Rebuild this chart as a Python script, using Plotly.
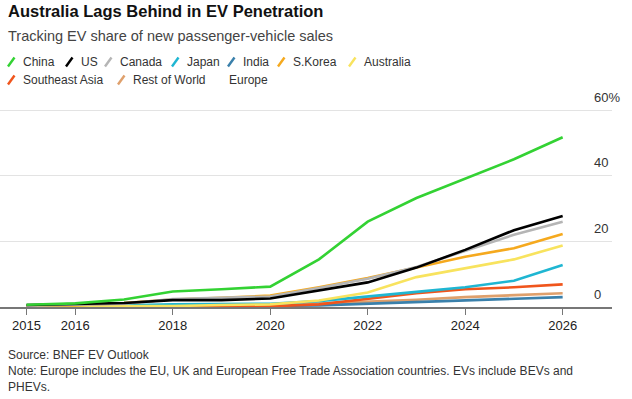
import plotly.graph_objects as go

years = list(range(2015, 2027))
china = [0.7, 1.1, 2.3, 4.7, 5.4, 6.2, 14.5, 26.0, 33.2, 39.0, 45.0, 51.7]
us = [0.6, 0.9, 1.2, 2.1, 2.1, 2.6, 5.0, 7.5, 12.0, 17.4, 23.4, 27.7]
canada = [0.4, 0.6, 1.0, 2.4, 2.8, 3.2, 5.8, 8.6, 12.2, 17.0, 22.0, 26.0]
japan = [0.3, 0.3, 0.5, 0.8, 0.8, 1.0, 1.8, 3.1, 4.6, 6.0, 8.0, 12.8]
india = [0.1, 0.1, 0.1, 0.2, 0.2, 0.3, 0.5, 1.0, 1.5, 2.0, 2.5, 3.0]
skorea = [0.3, 0.5, 1.2, 2.3, 2.8, 3.5, 6.0, 8.8, 12.0, 15.3, 17.9, 22.2]
australia = [0.2, 0.2, 0.2, 0.3, 0.6, 0.8, 2.0, 4.4, 9.1, 11.8, 14.5, 18.7]
se_asia = [0.1, 0.1, 0.1, 0.1, 0.1, 0.2, 0.8, 2.5, 4.2, 5.4, 6.0, 6.9]
rest_world = [0.1, 0.1, 0.2, 0.3, 0.3, 0.5, 1.0, 1.5, 2.2, 3.0, 3.6, 4.2]

series_names = ["China", "US", "Canada", "Japan", "India", "S.Korea", "Australia",
                "Southeast Asia", "Rest of World", "Europe"]
series_values = [china, us, canada, japan, india, skorea, australia, se_asia, rest_world, None]
colors = ["#33d233", "#000000", "#b5b5b5", "#1fb6d2", "#3a80ab", "#f5a91e", "#f8e35e",
          "#f0551c", "#dfa06c", None]

x_tickvals = [2015, 2016, 2018, 2020, 2022, 2024, 2026]
y_tickvals = [0, 20, 40, 60]
y_ticktext = ["0", "20", "40", "60%"]

title = "Australia Lags Behind in EV Penetration"
subtitle = "Tracking EV share of new passenger-vehicle sales"
source = "Source: BNEF EV Outlook"
note = ("Note: Europe includes the EU, UK and European Free Trade Association countries. EVs include BEVs and"
        "<br>PHEVs.")

W, H = 632, 399
L, R, T, B = 0, 20, 100, 92
PW, PH = W - L - R, H - T - B
BOTTOM = H - B


def px(x):
    return (x - L) / PW


def py(y):
    return (BOTTOM - y) / PH


fig = go.Figure()
order = [8, 4, 7, 3, 6, 5, 2, 1, 0]
for i in order:
    fig.add_trace(go.Scatter(x=years, y=series_values[i], mode="lines", name=series_names[i],
                             line=dict(color=colors[i], width=2.6), showlegend=False,
                             hoverinfo="skip"))

FONT = "Liberation Sans, Arial, sans-serif"
annotations = [
    dict(text="<b>" + title + "</b>", x=px(6), y=py(11), xanchor="left", yanchor="middle",
         font=dict(size=16.5, color="#111", family=FONT)),
    dict(text=subtitle, x=px(6), y=py(36), xanchor="left", yanchor="middle",
         font=dict(size=14.5, color="#444", family=FONT)),
    dict(text=source, x=px(6), y=py(355), xanchor="left", yanchor="middle",
         font=dict(size=12, color="#333", family=FONT)),
    dict(text=note, x=px(6), y=py(362), xanchor="left", yanchor="top", align="left",
         font=dict(size=12, color="#333", family=FONT)),
]
shapes = []

leg_pos = [(7, 62), (65, 62), (104, 62), (171, 62), (227, 62), (277, 62), (348, 62),
           (7, 80), (117, 80), (213, 80)]
for name, col, (lx, ly) in zip(series_names, colors, leg_pos):
    if col is not None:
        shapes.append(dict(type="line", xref="paper", yref="paper",
                           x0=px(lx + 1), y0=py(ly + 4.5), x1=px(lx + 7.5), y1=py(ly - 4.5),
                           line=dict(color=col, width=2.4)))
    annotations.append(dict(text=name, x=px(lx + 14), y=py(ly), xanchor="left", yanchor="middle",
                            font=dict(size=12, color="#333", family=FONT)))

for a in annotations:
    a.update(xref="paper", yref="paper", showarrow=False)

x0 = 2015 - 26.5 / 48.7
x1 = 2026 + (612 - 562.7) / 48.7

fig.update_layout(
    width=W, height=H,
    margin=dict(l=L, r=R, t=T, b=B, autoexpand=False),
    paper_bgcolor="white", plot_bgcolor="white",
    showlegend=False,
    hovermode=False,
    annotations=annotations,
    shapes=shapes,
    xaxis=dict(range=[x0, x1], tickvals=x_tickvals, ticktext=[str(v) for v in x_tickvals],
               showgrid=False, zeroline=False, showline=True, linecolor="#777", linewidth=1.5,
               ticks="outside", ticklen=6, tickcolor="#777", tickwidth=1, automargin=False,
               tickfont=dict(size=13, color="#222", family=FONT)),
    yaxis=dict(range=[0, PH / 3.283], tickvals=y_tickvals, ticktext=y_ticktext, side="right",
               showgrid=True, gridcolor="#e3e3e3", gridwidth=1, zeroline=False,
               showline=False, ticks="", automargin=False,
               ticklabelstandoff=-19, ticklabelshift=-13,
               tickfont=dict(size=13, color="#333", family=FONT)),
)

fig.write_html("out.html", config={"displayModeBar": False, "staticPlot": True},
               post_script="document.body.style.margin='0';document.body.style.padding='0';")
